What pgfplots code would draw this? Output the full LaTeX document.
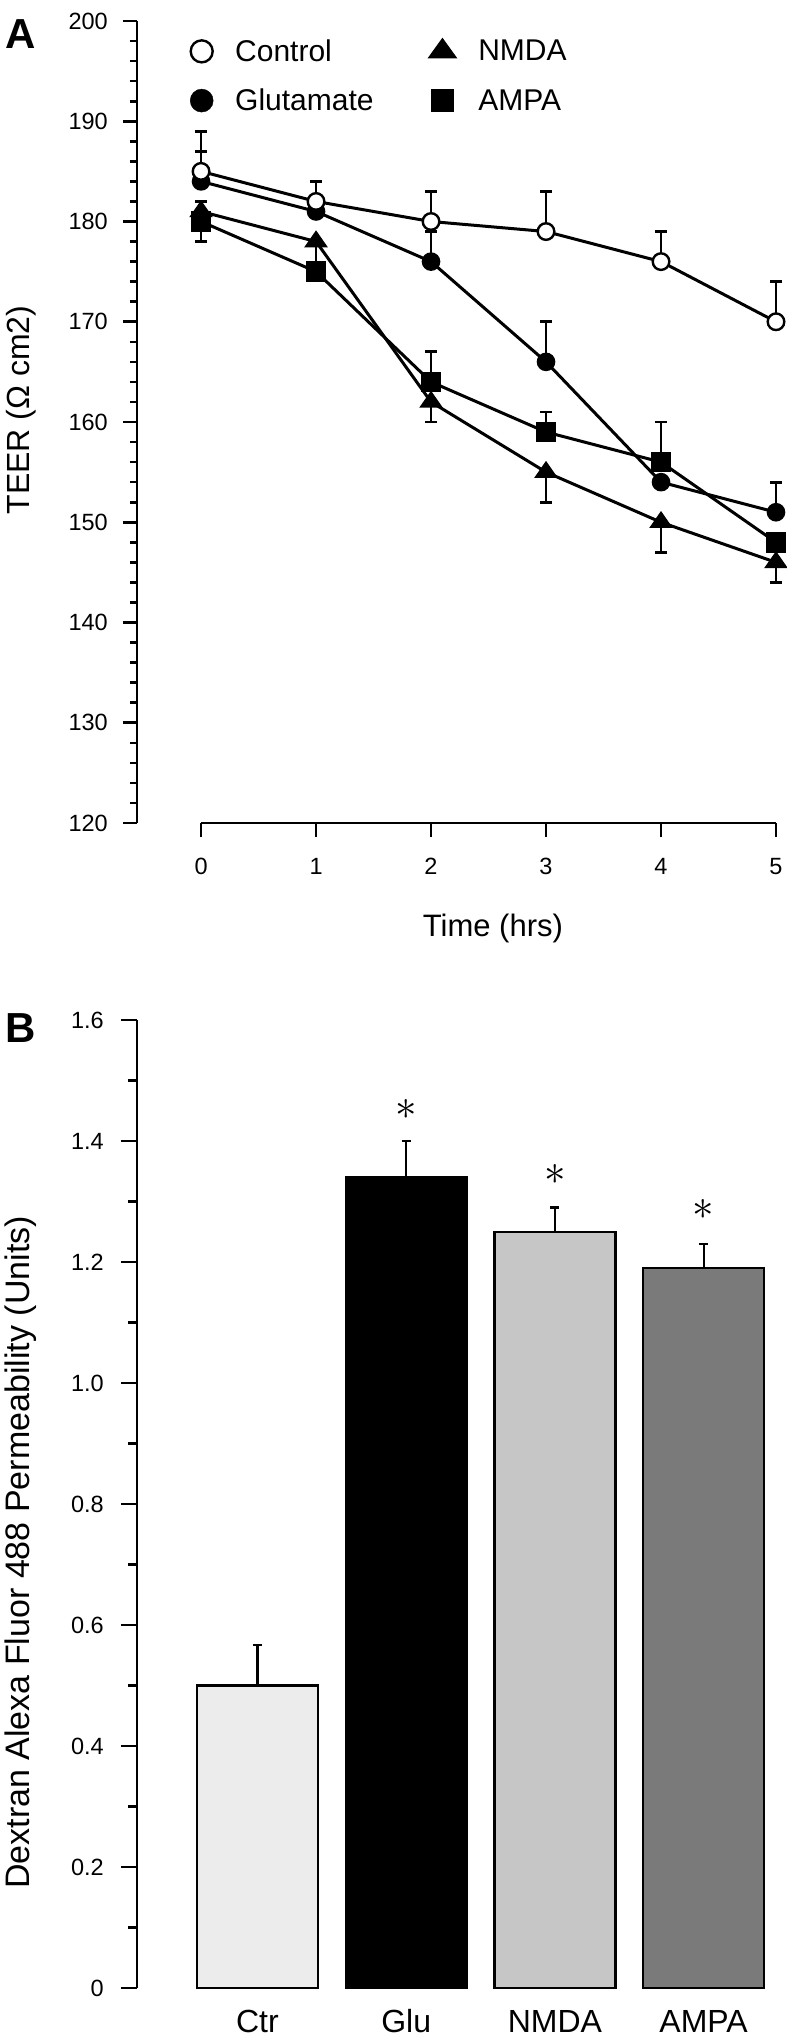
\documentclass[border=0pt]{standalone}
\usepackage{fontspec}
\setmainfont{Liberation Sans}
\usepackage{graphicx}
\usepackage{pgfplots}
\pgfplotsset{compat=1.18}

\definecolor{ctrgray}{HTML}{ECECEC}
\definecolor{nmdagray}{HTML}{C6C6C6}
\definecolor{ampagray}{HTML}{7A7A7A}

\newcommand{\fs}[1]{\fontsize{#1}{#1}\selectfont}

\pgfplotsset{
  panel/.style={
    scale only axis,
    axis lines*=left,
    axis line style={line width=2.6pt, -},
    tick align=outside,
    tick style={black, line width=2.6pt},
    ticklabel style={font=\fs{23.5}},
    /pgf/number format/assume math mode=true,
    label style={font=\fs{31}},
    clip=false,
  },
  ebar/.style={draw=none, forget plot,
    error bars/.cd, y dir=#1, y explicit,
    error bar style={draw=black, solid, line width=2.8pt},
    error mark options={draw=black, rotate=90, mark size=6pt, line width=2.8pt}},
  bebar/.style={error bars/.cd, y dir=plus, y explicit,
    error bar style={line width=2.2pt},
    error mark options={rotate=90, mark size=4.5pt, line width=2.2pt}},
}

\begin{document}
\begin{tikzpicture}
\path[use as bounding box] (0,0) rectangle (787pt,-2035pt);

\node[anchor=base west, inner sep=0pt, font=\fs{42}\bfseries] at (5pt,-48pt) {A};
\node[anchor=base west, inner sep=0pt, font=\fs{42}\bfseries] at (5pt,-1042pt) {B};

% ---------- panel A: TEER ----------
\begin{axis}[panel,
  at={(137pt,-823pt)}, anchor=south west,
  width=639pt, height=802pt,
  xmin=-0.557, xmax=5, ymin=120, ymax=200,
  xtick={0,1,2,3,4,5}, ytick={120,130,...,200},
  minor x tick num=0, minor y tick num=4,
  major tick length=14pt, minor tick length=7pt,
  x axis line style={draw=none},
  yticklabel style={anchor=east, inner sep=0pt, xshift=-15pt},
  xticklabel style={anchor=north, inner sep=0pt, yshift=-21pt},
  xlabel={Time (hrs)}, ylabel={TEER (Ω cm2)},
  xlabel style={at={(axis description cs:0.557,-0.131)}, anchor=center},
  ylabel style={at={(axis description cs:-0.1815,0.515)}, anchor=center, font=\fs{32}},
  legend columns=2, legend cell align=left,
  legend image code/.code={\draw[#1] plot coordinates {(0pt,0pt)};},
  legend style={at={(axis cs:-0.0961,198.27)}, anchor=north west,
    draw=none, fill=none, inner sep=0pt, font=\fs{30}, row sep=26pt,
    nodes={inner sep=0pt},
    /tikz/every odd column/.append style={column sep=22pt},
    /tikz/every even column/.append style={column sep=55pt}},
]
\draw[line width=2.6pt] (axis cs:0,120) -- (axis cs:5,120);

% error bars (upper)
\addplot[ebar=plus] coordinates {
  (0,185) +- (0,4) (1,182) +- (0,2) (2,180) +- (0,3)
  (3,179) +- (0,4) (4,176) +- (0,3) (5,170) +- (0,4)};
\addplot[ebar=plus] coordinates {
  (0,184) +- (0,3) (2,176) +- (0,3) (3,166) +- (0,4) (5,151) +- (0,3)};
\addplot[ebar=plus] coordinates {(0,181) +- (0,1)};
\addplot[ebar=plus] coordinates {
  (2,164) +- (0,3) (3,159) +- (0,2) (4,156) +- (0,4)};
% error bars (lower)
\addplot[ebar=minus] coordinates {
  (1,178) +- (0,3) (2,162) +- (0,2) (3,155) +- (0,3)
  (4,150) +- (0,3) (5,146) +- (0,2)};
\addplot[ebar=minus] coordinates {(0,180) +- (0,2)};

% AMPA
\addplot[forget plot, line width=3pt, mark=square*, mark size=9.5pt,
  mark options={fill=black, line width=1.5pt}] coordinates {
  (0,180) (1,175) (2,164) (3,159) (4,156) (5,148)};
% NMDA
\addplot[forget plot, line width=3pt, mark=triangle*, mark size=12pt,
  mark options={fill=black, line width=1.5pt, yscale=0.83}] coordinates {
  (0,181) (1,178) (2,162) (3,155) (4,150) (5,146)};
% Glutamate
\addplot[forget plot, line width=3pt, mark=*, mark size=8.3pt,
  mark options={fill=black, line width=2pt}] coordinates {
  (0,184) (1,181) (2,176) (3,166) (4,154) (5,151)};
% Control
\addplot[forget plot, line width=3pt, mark=*, mark size=8.3pt,
  mark options={fill=white, line width=2.4pt}] coordinates {
  (0,185) (1,182) (2,180) (3,179) (4,176) (5,170)};

\addlegendimage{mark=*, mark size=11pt, mark options={fill=white, draw=black, line width=2.4pt}}
\addlegendentry{Control}
\addlegendimage{mark=triangle*, mark size=16pt, mark options={fill=black, draw=black, line width=1pt, yscale=0.8}}
\addlegendentry{NMDA}
\addlegendimage{mark=*, mark size=11.5pt, mark options={fill=black, draw=black}}
\addlegendentry{Glutamate}
\addlegendimage{mark=square*, mark size=11pt, mark options={fill=black, draw=black}}
\addlegendentry{AMPA}
\end{axis}

% ---------- panel B: permeability ----------
\begin{axis}[panel,
  at={(137pt,-1988pt)}, anchor=south west,
  width=641pt, height=968pt,
  xmin=-0.81, xmax=3.5, ymin=0, ymax=1.6,
  ytick={0,0.2,0.4,0.6,0.8,1.0,1.2,1.4,1.6},
  yticklabels={0,0.2,0.4,0.6,0.8,1.0,1.2,1.4,1.6},
  minor y tick num=1,
  major tick length=16pt, minor tick length=9pt,
  xtick={0,1,2,3}, xticklabels={Ctr,Glu,NMDA,AMPA},
  xtick style={draw=none},
  x axis line style={draw=none},
  yticklabel style={anchor=east, inner sep=0pt, xshift=-17pt},
  xticklabel style={font=\fs{32}, anchor=base, inner sep=0pt, yshift=-28pt},
  ylabel={Dextran Alexa Fluor 488 Permeability (Units)},
  ylabel style={at={(axis description cs:-0.181,0.45)}, anchor=center, font=\fs{34}},
  ybar, bar width=121pt, bar shift=0pt,
]
\addplot[fill=ctrgray, draw=black, line width=2.2pt, bebar]
  coordinates {(0,0.50) +- (0,0.067)};
\addplot[fill=black, draw=black, line width=2.2pt, bebar]
  coordinates {(1,1.34) +- (0,0.06)};
\addplot[fill=nmdagray, draw=black, line width=2.2pt, bebar]
  coordinates {(2,1.25) +- (0,0.04)};
\addplot[fill=ampagray, draw=black, line width=2.2pt, bebar]
  coordinates {(3,1.19) +- (0,0.04)};

\node at (axis cs:1,1.452) {\scalebox{4.3}{$\ast$}};
\node at (axis cs:2,1.345) {\scalebox{4.3}{$\ast$}};
\node at (axis cs:3,1.286) {\scalebox{4.3}{$\ast$}};
\end{axis}
\end{tikzpicture}
\end{document}
